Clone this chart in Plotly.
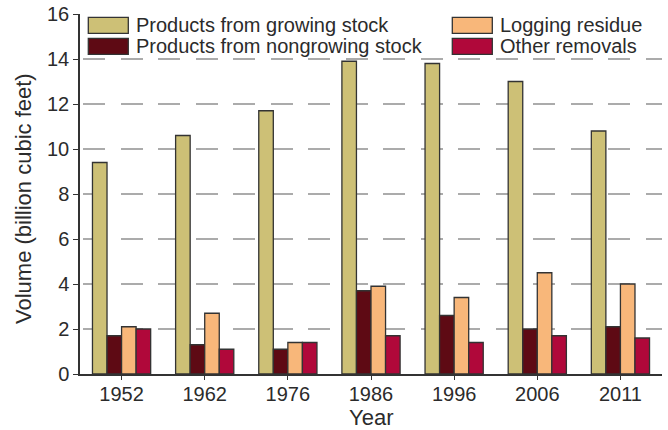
import plotly.graph_objects as go

years = ["1952", "1962", "1976", "1986", "1996", "2006", "2011"]
growing = [9.4, 10.6, 11.7, 13.9, 13.8, 13.0, 10.8]
nongrowing = [1.7, 1.3, 1.1, 3.7, 2.6, 2.0, 2.1]
logging = [2.1, 2.7, 1.4, 3.9, 3.4, 4.5, 4.0]
other = [2.0, 1.1, 1.4, 1.7, 1.4, 1.7, 1.6]

series_names = ["Products from growing stock", "Products from nongrowing stock",
                "Logging residue", "Other removals"]
series_values = [growing, nongrowing, logging, other]
series_colors = ["#CDC076", "#5E0A14", "#F8B77A", "#B0083A"]

y_ticks = [0, 2, 4, 6, 8, 10, 12, 14, 16]
x_title = "Year"
y_title = "Volume (billion cubic feet)"

FONT = "Liberation Sans, Arial, sans-serif"
TXT = "#2b2b2b"

fig = go.Figure()
for name, vals, col in zip(series_names, series_values, series_colors):
    fig.add_trace(go.Bar(x=years, y=vals, name=name, marker_color=col,
                         marker_line_color="#333333", marker_line_width=1.3,
                         showlegend=False))

W, H = 668, 430
ML, MR, MT, MB = 80, 6, 14, 56
PW, PH = W - ML - MR, H - MT - MB

def px_x(p):
    return (p - ML) / PW

def px_y(p):
    return (H - MB - p) / PH

# custom legend (two columns, two rows)
legend_layout = [
    (0, 88.3, 17.3, 134),   # growing stock: row 1, col 1
    (1, 88.3, 38.3, 134),   # nongrowing: row 2, col 1
    (2, 452.3, 17.3, 498),  # logging residue: row 1, col 2
    (3, 452.3, 38.3, 498),  # other removals: row 2, col 2
]
shapes = []
annotations = []
for idx, sx, sy, tx in legend_layout:
    shapes.append(dict(type="rect", xref="paper", yref="paper",
                       x0=px_x(sx), x1=px_x(sx + 40), y0=px_y(sy + 16), y1=px_y(sy),
                       fillcolor=series_colors[idx], line=dict(color="#333333", width=1.3)))
    annotations.append(dict(xref="paper", yref="paper", x=px_x(tx), y=px_y(sy + 8),
                            text=series_names[idx], showarrow=False, xanchor="left",
                            yanchor="middle", font=dict(family=FONT, size=20, color=TXT)))

# axis titles
annotations.append(dict(xref="paper", yref="paper", x=px_x(371), y=px_y(417),
                        text=x_title, showarrow=False, xanchor="center", yanchor="middle",
                        font=dict(family=FONT, size=22, color=TXT)))
annotations.append(dict(xref="paper", yref="paper", x=px_x(24), y=px_y(199),
                        text=y_title, showarrow=False, xanchor="center", yanchor="middle",
                        textangle=-90, font=dict(family=FONT, size=22, color=TXT)))

fig.update_layout(
    width=W, height=H,
    margin=dict(l=ML, r=MR, t=MT, b=MB, pad=0),
    paper_bgcolor="white", plot_bgcolor="white",
    barmode="group", bargap=0.3, bargroupgap=0,
    font=dict(family=FONT, size=20, color=TXT),
    shapes=shapes, annotations=annotations,
    xaxis=dict(type="category", range=[-0.5, 6.5], showgrid=False, automargin=False,
               showline=True, linecolor="#333333", linewidth=1.5, layer="above traces",
               ticks="outside", ticklen=4, tickcolor="#333333", tickwidth=1.2,
               ticklabelstandoff=-3,
               tickfont=dict(size=20, color=TXT)),
    yaxis=dict(range=[0, 16], tickvals=y_ticks, ticktext=[str(t) for t in y_ticks],
               automargin=False,
               showgrid=True, gridcolor="#ababab", gridwidth=2,
               griddash="0px,3px,22px,12.5px", zeroline=False,
               showline=True, linecolor="#333333", linewidth=1.5,
               ticks="outside", ticklen=5, tickcolor="#333333", tickwidth=1.2,
               tickfont=dict(size=20, color=TXT)),
)

fig.write_html("out.html", config={"displayModeBar": False},
               post_script="document.body.style.margin='0px';document.body.style.padding='0px';")
